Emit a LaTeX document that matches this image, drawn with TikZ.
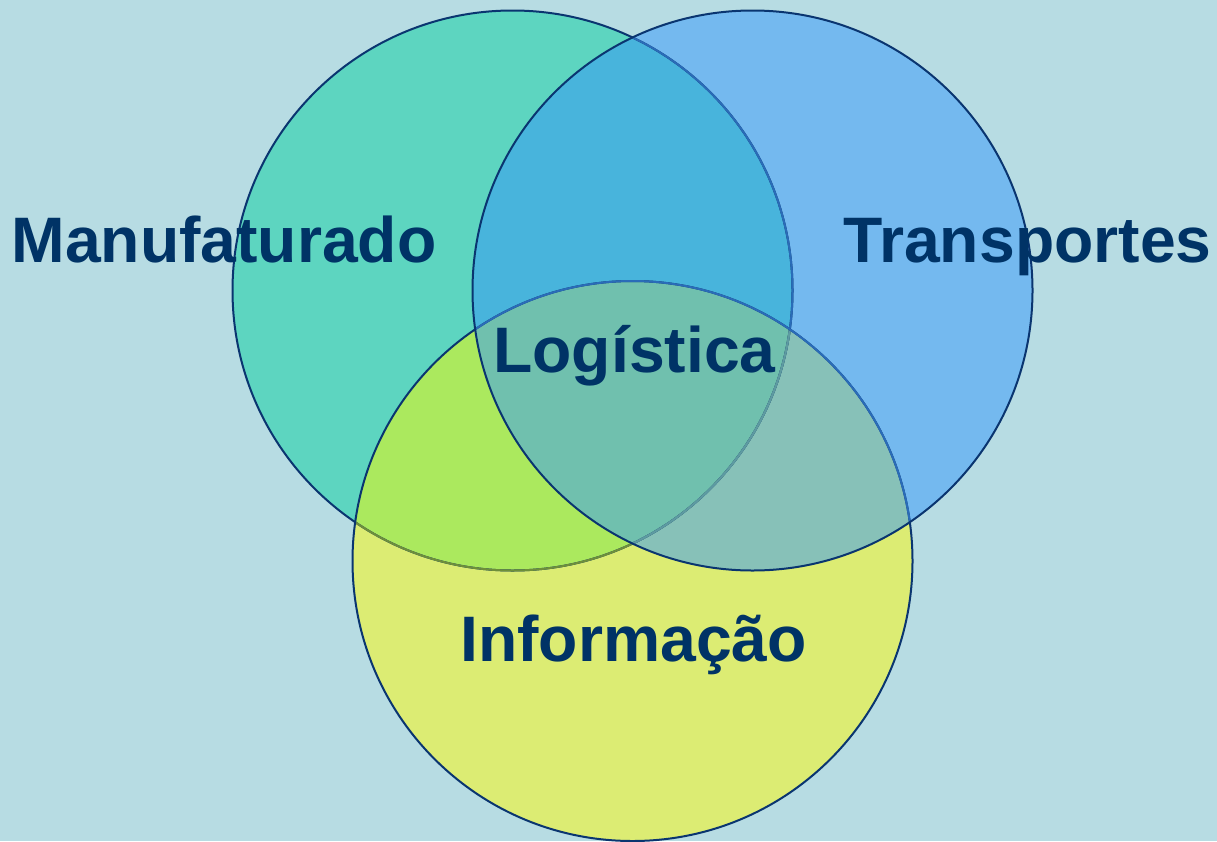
\documentclass[tikz,border=0pt]{standalone}
\usepackage{fontspec}
\setmainfont{Liberation Sans}
\definecolor{bg}{HTML}{B7DCE3}
\definecolor{cL}{HTML}{5DD5C0}
\definecolor{cR}{HTML}{74B9EF}
\definecolor{cB}{HTML}{DCEC73}
\definecolor{cLR}{HTML}{48B4DC}
\definecolor{cLB}{HTML}{ABE95E}
\definecolor{cRB}{HTML}{87C1B8}
\definecolor{cLRB}{HTML}{70C0AE}
\definecolor{navy}{HTML}{0A3570}
\definecolor{navytext}{HTML}{003366}
\definecolor{lineblue}{HTML}{2A6CB8}
\definecolor{lineolive}{HTML}{6E8F3A}
\definecolor{linefade}{HTML}{5E9BA0}
\begin{document}
\begin{tikzpicture}[x=1pt,y=-1pt,
  lbl/.style={text=navytext, font=\fontsize{64.3}{70}\selectfont\bfseries, inner sep=0pt, anchor=base},
  ring/.style={line width=2pt}]
\coordinate (cl) at (512.5,290.5);
\coordinate (cr) at (752.5,290.5);
\coordinate (cb) at (632.5,561);
\fill[bg] (0,0) rectangle (1217,841);
\useasboundingbox (0,0) rectangle (1217,841);
% region fills
\fill[cL] (cl) circle[radius=280pt];
\fill[cR] (cr) circle[radius=280pt];
\fill[cB] (cb) circle[radius=280pt];
\begin{scope}
  \clip (cl) circle[radius=280pt];
  \fill[cLR] (cr) circle[radius=280pt];
  \fill[cLB] (cb) circle[radius=280pt];
\end{scope}
\begin{scope}
  \clip (cr) circle[radius=280pt];
  \fill[cRB] (cb) circle[radius=280pt];
  \clip (cl) circle[radius=280pt];
  \fill[cLRB] (cb) circle[radius=280pt];
\end{scope}
% left outline
\draw[ring, navy] (cl) circle[radius=280pt];
\begin{scope}
  \clip (cb) circle[radius=280pt];
  \draw[ring, lineolive] (cl) circle[radius=280pt];
\end{scope}
\begin{scope}
  \clip (cr) circle[radius=280pt];
  \draw[ring, lineblue] (cl) circle[radius=280pt];
  \clip (cb) circle[radius=280pt];
  \draw[ring, linefade] (cl) circle[radius=280pt];
\end{scope}
% bottom outline
\draw[ring, navy] (cb) circle[radius=280pt];
\begin{scope}
  \clip (cr) circle[radius=280pt];
  \draw[ring, lineblue] (cb) circle[radius=280pt];
\end{scope}
% right outline
\draw[ring, navy] (cr) circle[radius=280pt];
% labels
\node[lbl] (manu) at (224,262) {Manufaturado};
\node[lbl] (trans) at (1027.5,262) {Transportes};
\node[lbl] (logi) at (634.5,372) {Logística};
\node[lbl] (info) at (633.5,661) {Informação};
\end{tikzpicture}
\end{document}
